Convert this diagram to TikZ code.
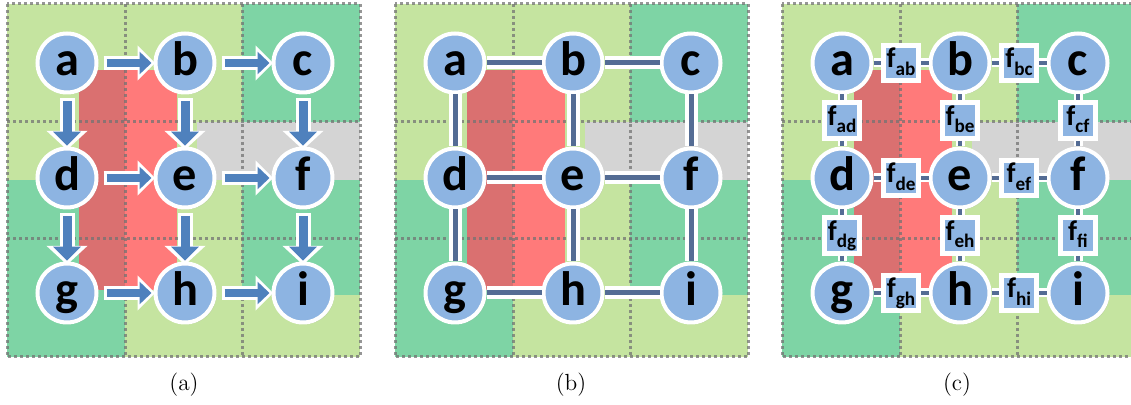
\documentclass[tikz,border=0pt]{standalone}
\usepackage{fontspec}
\newfontfamily\lblfont{Carlito}
\usetikzlibrary{arrows.meta, shadows, calc}

\definecolor{lgreen}{RGB}{197,228,160}
\definecolor{dgreen}{RGB}{126,212,165}
\definecolor{lgray}{RGB}{212,212,212}
\definecolor{lred}{RGB}{255,122,122}
\definecolor{dred}{RGB}{218,112,112}
\definecolor{nodeblue}{RGB}{141,180,226}
\definecolor{arrowblue}{RGB}{79,129,189}
\definecolor{edgeblue}{RGB}{84,108,148}

\newcommand{\fsub}[1]{{\fontsize{17}{17}\selectfont f}\raisebox{-4.5pt}{\fontsize{11.5}{11.5}\selectfont #1}}

\tikzset{
  var/.style={circle, fill=nodeblue, draw=white, line width=2.4pt, minimum size=35.4pt, inner sep=0pt,
    text height=15pt, text depth=0pt, font=\lblfont\bfseries\fontsize{29}{29}\selectfont,
    drop shadow={opacity=0.3, shadow xshift=1pt, shadow yshift=-1pt}},
  fac/.style={rectangle, fill=nodeblue, draw=white, line width=3pt, minimum size=21.5pt, inner sep=0pt,
    text height=6pt, text depth=0pt, font=\lblfont\bfseries,
    drop shadow={opacity=0.3, shadow xshift=0.8pt, shadow yshift=-0.8pt}},
  link/.style={draw=white, line width=2.4pt, double=edgeblue, double distance=3pt},
  flink/.style={draw=white, line width=1.5pt, double=edgeblue, double distance=2.4pt},
  hback/.style={white, line width=8.4pt, -{Triangle[width=20.4pt, length=10.5pt]}, shorten <=3pt, shorten >=-1pt},
  hfront/.style={arrowblue, line width=4.8pt, -{Triangle[width=13.2pt, length=7.2pt]}, shorten <=4.8pt, shorten >=1.2pt},
  vback/.style={white, line width=9pt, -{Triangle[width=24pt, length=11.4pt]}, shorten <=2pt, shorten >=-2pt},
  vfront/.style={arrowblue, line width=5.4pt, -{Triangle[width=16.2pt, length=8.4pt]}, shorten <=3.8pt, shorten >=0.5pt},
  gridline/.style={black!55, opacity=0.75, line width=1.8pt, dash pattern=on 1.8pt off 1.8pt},
  caption/.style={font=\fontsize{14}{16}\selectfont}
}

\begin{document}
\begin{tikzpicture}[x=0.6pt, y=-0.6pt]
\useasboundingbox (0,0) rectangle (1131,405);

\foreach \p/\px in {A/7, B/395, C/782} {
  \begin{scope}[shift={(\px,4)}]
    \fill[lgreen] (0,0) rectangle (353,353);
    \fill[dgreen] (0,176) rectangle (118,353);
    \fill[dgreen] (235,0) rectangle (353,118);
    \fill[dgreen] (235,176) rectangle (353,291);
    \fill[lgray] (190,118) rectangle (353,176);
    \fill[dred] (72,66) rectangle (118,286);
    \fill[lred] (118,66) rectangle (170,286);
    \foreach \k in {118,235} {
      \draw[gridline] (\k,0) -- (\k,353);
      \draw[gridline] (0,\k) -- (353,\k);
    }
    \draw[gridline] (0,0) rectangle (353,353);
    \foreach \n/\x/\y in {a/60/59, b/178/59, c/296/59, d/60/174, e/178/174, f/296/174, g/60/289, h/178/289, i/296/289}
      \node[var] (\p\n) at (\x,\y) {\n};
  \end{scope}
}

% (a) directed
\foreach \s/\t in {a/b, b/c, d/e, e/f, g/h, h/i} {
  \draw[hback] (A\s) -- (A\t);
  \draw[hfront] (A\s) -- (A\t);
}
\foreach \s/\t in {a/d, b/e, c/f, d/g, e/h, f/i} {
  \draw[vback] (A\s) -- (A\t);
  \draw[vfront] (A\s) -- (A\t);
}

% (b) undirected
\foreach \s/\t in {a/b, b/c, d/e, e/f, g/h, h/i, a/d, b/e, c/f, d/g, e/h, f/i}
  \draw[link] (B\s) -- (B\t);

% (c) factor graph
\foreach \s/\t in {a/b, b/c, d/e, e/f, g/h, h/i, a/d, b/e, c/f, d/g, e/h, f/i} {
  \node[fac] (f\s\t) at ($(C\s)!0.5!(C\t)$) {\fsub{\s\t}};
  \draw[flink] (C\s) -- (f\s\t);
  \draw[flink] (f\s\t) -- (C\t);
}

\node[caption] (capa) at (184,385) {(a)};
\node[caption] (capb) at (571,385) {(b)};
\node[caption] (capc) at (957,385) {(c)};
\end{tikzpicture}
\end{document}
